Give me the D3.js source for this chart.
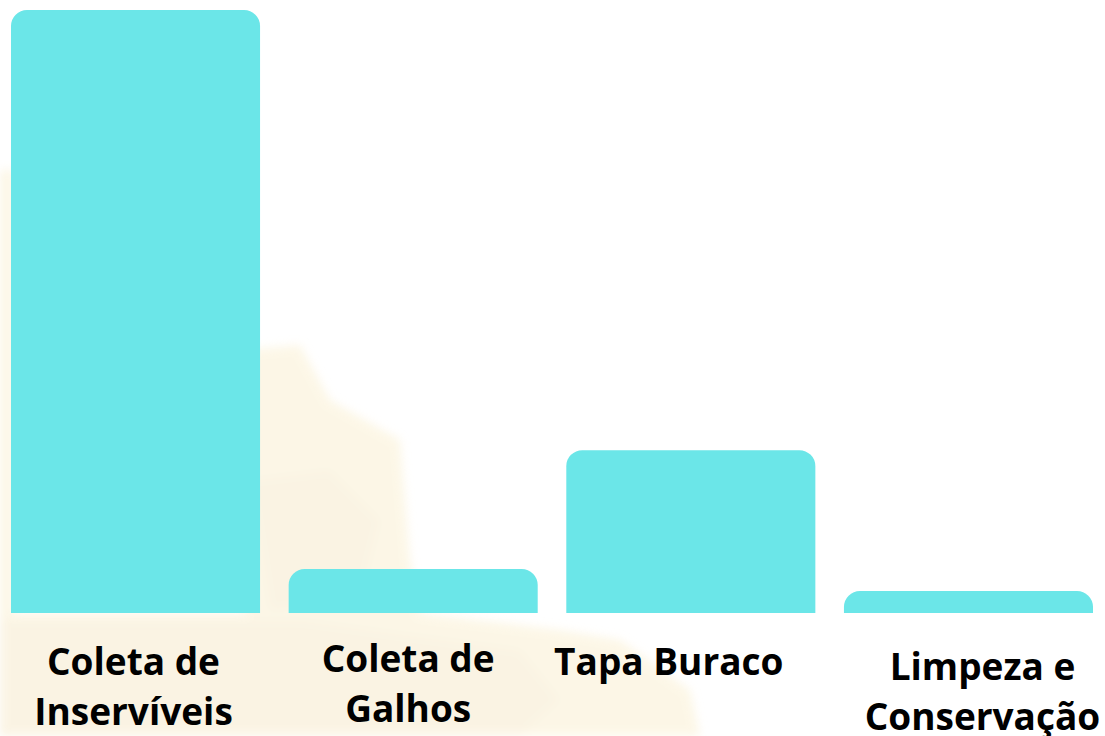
<!DOCTYPE html>
<html>
<head>
<meta charset="utf-8">
<script src="https://cdn.jsdelivr.net/npm/d3@7"></script>
<style>
  html, body { margin: 0; padding: 0; background: #ffffff; }
  svg { display: block; }
</style>
</head>
<body>
<script>
// ---- data ----
const categories = ["Coleta de Inservíveis", "Coleta de Galhos", "Tapa Buraco", "Limpeza e Conservação"];
const values = [274, 20, 74, 10];
const labelLines = [["Coleta de", "Inservíveis"], ["Coleta de", "Galhos"], ["Tapa Buraco"], ["Limpeza e", "Conservação"]];

// ---- layout ----
const W = 1105, H = 736;
const labelDx = [-2, -5, -22, 14];
const labelY = [660, 657, 660, 665];
const lineGap = 50;
const radius = 16;

const svg = d3.select("body").append("svg").attr("width", W).attr("height", H);

// faint background decoration (pale yellow blotch)
const defs = svg.append("defs");
defs.append("filter").attr("id", "blur").attr("x", "-20%").attr("y", "-20%").attr("width", "140%").attr("height", "140%")
  .append("feGaussianBlur").attr("stdDeviation", 5);
const bg = svg.append("g").attr("filter", "url(#blur)").attr("opacity", 0.5);
bg.append("path").attr("fill", "#faefcf")
  .attr("d", "M0,170 L14,170 L14,613 L245,613 L245,350 L300,345 L330,400 L400,440 L410,560 L420,613 L560,630 L620,640 L690,690 L700,736 L0,736 Z");
bg.append("path").attr("fill", "#f3e4c4").attr("opacity", 0.5)
  .attr("d", "M250,480 L330,470 L380,520 L360,600 L270,610 Z M0,620 L300,620 L520,650 L560,700 L520,736 L0,736 Z");

const x = d3.scaleBand().domain(categories).range([11, 1093]).paddingInner(0.103).paddingOuter(0);
const y = d3.scaleLinear().domain([0, d3.max(values)]).range([613, 10]);

function topRounded(x0, y0, w, h, r) {
  r = Math.min(r, h, w / 2);
  const p = d3.path();
  p.moveTo(x0, y0 + h);
  p.lineTo(x0, y0 + r);
  p.arcTo(x0, y0, x0 + r, y0, r);
  p.lineTo(x0 + w - r, y0);
  p.arcTo(x0 + w, y0, x0 + w, y0 + r, r);
  p.lineTo(x0 + w, y0 + h);
  p.closePath();
  return p.toString();
}

svg.append("g").selectAll("path").data(categories).join("path")
  .attr("fill", "#6be6e8")
  .attr("d", (c, i) => topRounded(x(c), y(values[i]), x.bandwidth(), y(0) - y(values[i]), radius));

const lbl = svg.append("g")
  .attr("font-family", "'Open Sans', 'Noto Sans', sans-serif")
  .attr("font-weight", 700)
  .attr("font-size", 37)
  .attr("fill", "#000")
  .attr("text-anchor", "middle");

categories.forEach((c, i) => {
  const t = lbl.append("text")
    .attr("x", x(c) + x.bandwidth() / 2 + labelDx[i])
    .attr("y", labelY[i])
    .attr("dominant-baseline", "central");
  labelLines[i].forEach((ln, j) => {
    t.append("tspan").attr("x", x(c) + x.bandwidth() / 2 + labelDx[i]).attr("y", labelY[i] + j * lineGap).text(ln);
  });
});
</script>
</body>
</html>
